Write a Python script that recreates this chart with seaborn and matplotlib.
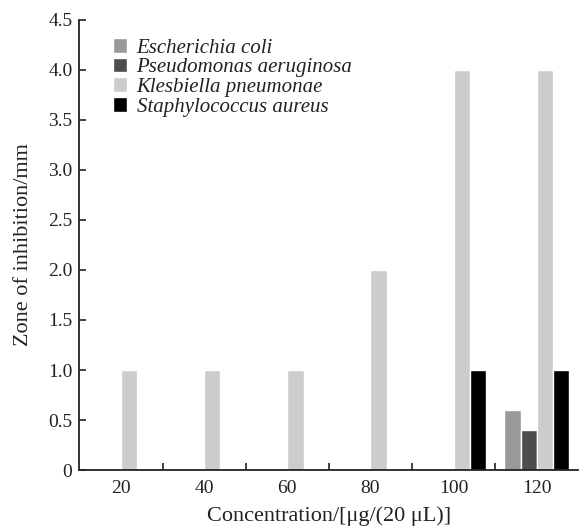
import pandas as pd
import seaborn as sns
import matplotlib.pyplot as plt
from matplotlib.ticker import FixedLocator

# Values
concentrations = ['20', '40', '60', '80', '100', '120']
species = ['Escherichia coli', 'Pseudomonas aeruginosa',
           'Klesbiella pneumonae', 'Staphylococcus aureus']
e_coli = [0, 0, 0, 0, 0, 0.6]
p_aeruginosa = [0, 0, 0, 0, 0, 0.4]
k_pneumonae = [1.0, 1.0, 1.0, 2.0, 4.0, 4.0]
s_aureus = [0, 0, 0, 0, 1.0, 1.0]
colors = ['#999999', '#4d4d4d', '#cccccc', '#000000']

# Long format table for seaborn
rows = []
for name, vals in zip(species, [e_coli, p_aeruginosa, k_pneumonae, s_aureus]):
    for c, v in zip(concentrations, vals):
        rows.append({'Concentration': c, 'Species': name, 'Zone': v})
df = pd.DataFrame(rows)

sns.set_style('ticks')
plt.rcParams['font.family'] = ['Liberation Serif', 'DejaVu Serif']

fig = plt.figure(figsize=(5.79, 5.32), dpi=100)
ax = fig.add_axes([0.137, 0.1165, 0.862, 0.846])

sns.barplot(data=df, x='Concentration', y='Zone', hue='Species',
            hue_order=species, palette=colors, width=0.78,
            saturation=1, ax=ax, errorbar=None)

ax.set_xlim(-0.5, 5.5)
ax.set_ylim(0, 4.5)
ax.set_yticks([0, 0.5, 1.0, 1.5, 2.0, 2.5, 3.0, 3.5, 4.0, 4.5])
ax.set_yticklabels(['0', '0.5', '1.0', '1.5', '2.0', '2.5', '3.0', '3.5', '4.0', '4.5'])
ax.xaxis.set_minor_locator(FixedLocator([0.5, 1.5, 2.5, 3.5, 4.5]))
ax.tick_params(axis='x', which='major', length=0, labelsize=14, pad=7, colors='#222222')
ax.tick_params(axis='x', which='minor', direction='in', length=5, width=1.2, color='#222222')
ax.tick_params(axis='y', direction='in', length=5, width=1.2, labelsize=14, pad=5,
               colors='#222222')

sns.despine(ax=ax, top=True, right=True)
for s in ['left', 'bottom']:
    ax.spines[s].set_linewidth(1.3)
    ax.spines[s].set_color('#222222')

ax.set_xlabel('Concentration/[μg/(20 μL)]', fontsize=16, color='#222222', labelpad=7)
ax.set_ylabel('Zone of inhibition/mm', fontsize=16, color='#222222', labelpad=11)

leg = ax.legend(loc='upper left', bbox_to_anchor=(0.05, 0.978), frameon=False,
                prop={'family': 'Liberation Serif', 'style': 'italic', 'size': 15},
                handlelength=0.7, handleheight=0.7, handletextpad=0.45,
                labelspacing=0.0, borderaxespad=0)
for t in leg.get_texts():
    t.set_color('#222222')

fig.savefig('out.png', dpi=100)
